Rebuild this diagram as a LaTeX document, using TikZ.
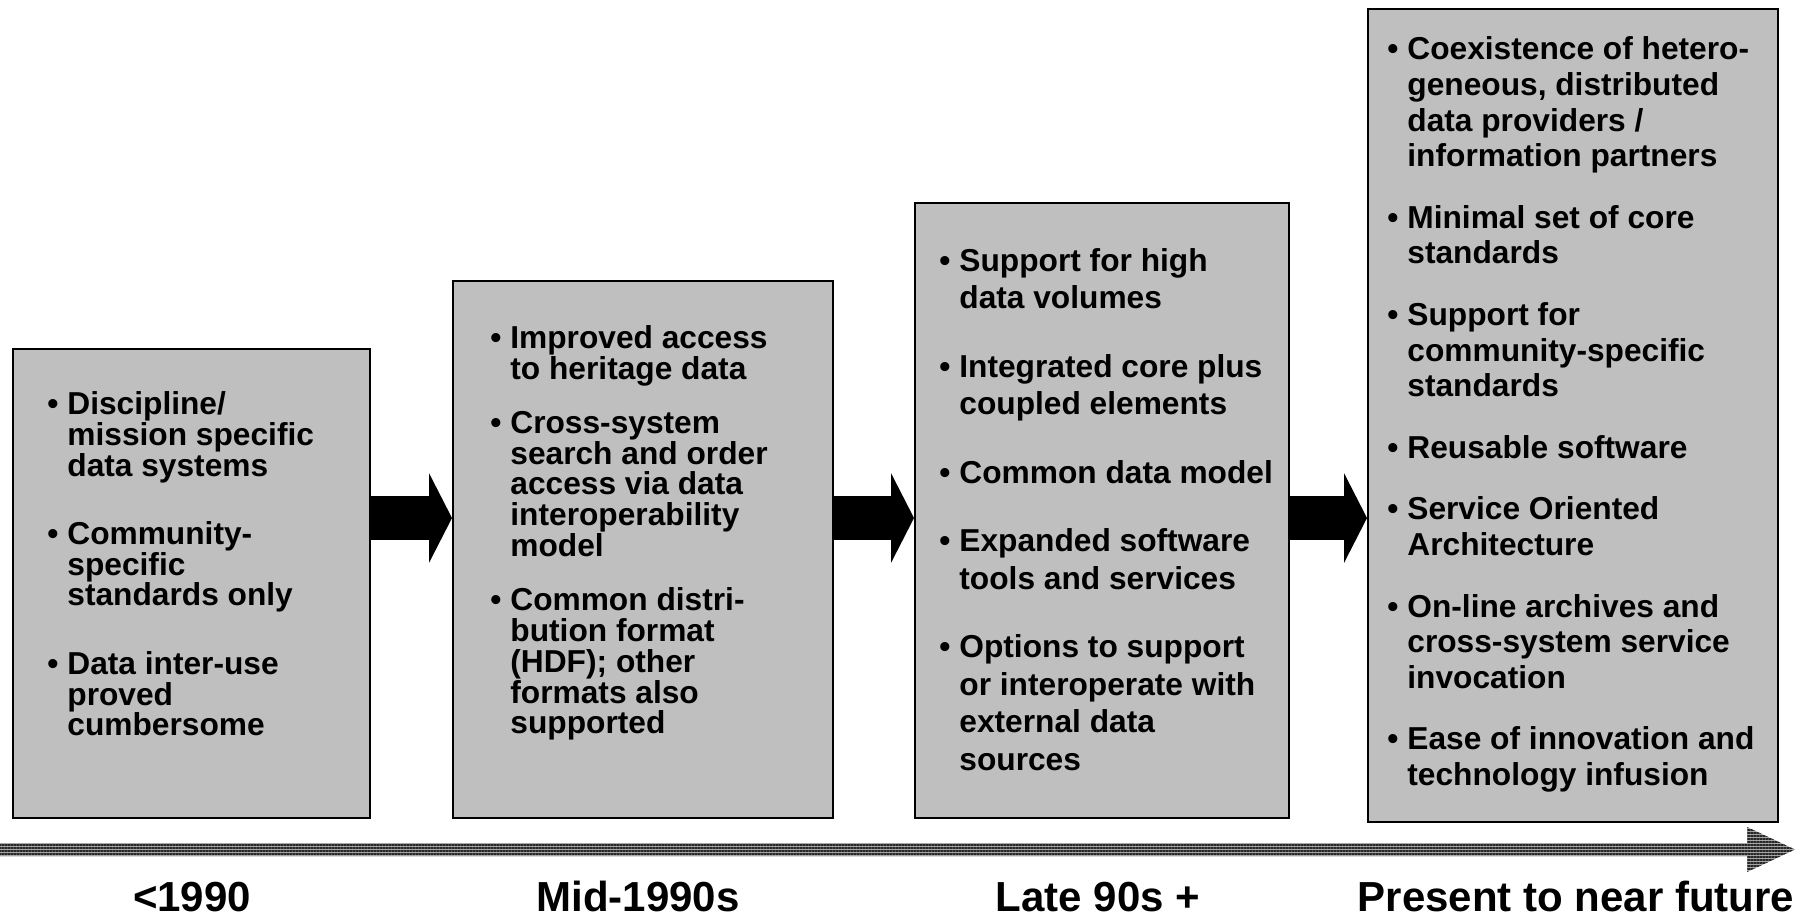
\documentclass[tikz,border=0pt]{standalone}
\usepackage{fontspec}
\setmainfont{Liberation Sans}
\usetikzlibrary{arrows.meta, positioning, patterns.meta}

\newlength{\stagegap}
\tikzset{
  stage/.style={draw=black, line width=0.9pt, fill=black!25, anchor=north west, inner sep=0pt},
  items/.style 2 args={anchor=north west, inner sep=0pt, align=left,
    font=\bfseries\fontsize{15.85}{#1}\selectfont,
    execute at begin node={\setlength{\stagegap}{#2}}},
  era/.style={anchor=base, inner sep=0pt, font=\bfseries\fontsize{21}{24}\selectfont},
  stagearrow/.style={line width=22pt, -{Triangle[length=11.5pt, width=44.5pt]}},
  timeline/.style={pattern={Lines[angle=0, distance=1.5pt, line width=0.75pt]}, pattern color=black!85}
}
\newcommand{\bu}{\makebox[10pt][l]{\textbullet}}
\newcommand{\indt}{\hspace*{10pt}}
\newcommand{\gap}{\\[\stagegap]}

\begin{document}
\begin{tikzpicture}[x=0.5pt, y=-0.5pt]
  \useasboundingbox (0,0) rectangle (1809,917);

  % the four stages
  \node[stage, minimum width=178.5pt, minimum height=234.5pt] (b1) at (12,348) {};
  \node[stage, minimum width=190pt, minimum height=268.5pt] (b2) at (452,280) {};
  \node[stage, minimum width=187pt, minimum height=307.5pt] (b3) at (914,202) {};
  \node[stage, minimum width=205pt, minimum height=406.5pt] (b4) at (1367,8) {};

  \node[items={15.3pt}{19pt}] (t1) at ([xshift=17.5pt, yshift=-21.8pt]b1.north west)
    {\bu Discipline/\\ \indt mission specific\\ \indt data systems\gap
     \bu Community-\\ \indt specific\\ \indt standards only\gap
     \bu Data inter-use\\ \indt proved\\ \indt cumbersome};
  \node[items={15.4pt}{11.7pt}] (t2) at ([xshift=19pt, yshift=-22.5pt]b2.north west)
    {\bu Improved access\\ \indt to heritage data\gap
     \bu Cross-system\\ \indt search and order\\ \indt access via data\\ \indt interoperability\\ \indt model\gap
     \bu Common distri-\\ \indt bution format\\ \indt (HDF); other\\ \indt formats also\\ \indt supported};
  \node[items={18.75pt}{15.5pt}] (t3) at ([xshift=12.5pt, yshift=-23pt]b3.north west)
    {\bu Support for high\\ \indt data volumes\gap
     \bu Integrated core plus\\ \indt coupled elements\gap
     \bu Common data model\gap
     \bu Expanded software\\ \indt tools and services\gap
     \bu Options to support\\ \indt or interoperate with\\ \indt external data\\ \indt sources};
  \node[items={17.8pt}{13pt}] (t4) at ([xshift=10pt, yshift=-14.3pt]b4.north west)
    {\bu Coexistence of hetero-\\ \indt geneous, distributed\\ \indt data providers /\\ \indt information partners\gap
     \bu Minimal set of core\\ \indt standards\gap
     \bu Support for\\ \indt community-specific\\ \indt standards\gap
     \bu Reusable software\gap
     \bu Service Oriented\\ \indt Architecture\gap
     \bu On-line archives and\\ \indt cross-system service\\ \indt invocation\gap
     \bu Ease of innovation and\\ \indt technology infusion};

  % block arrows between stages
  \draw[stagearrow] (b1.east |- 0,518) -- (b2.west |- 0,518);
  \draw[stagearrow] (b2.east |- 0,518) -- (b3.west |- 0,518);
  \draw[stagearrow] (b3.east |- 0,518) -- (b4.west |- 0,518);

  % time axis
  \fill[black!35] (0,843) -- (1747,843) -- (1747,827) -- (1795,849.5) -- (1747,872) -- (1747,856) -- (0,856) -- cycle;
  \fill[timeline] (0,843) -- (1747,843) -- (1747,827) -- (1795,849.5) -- (1747,872) -- (1747,856) -- (0,856) -- cycle;

  \node[era] (e1) at (192,911) {<1990};
  \node[era] (e2) at (638,911) {Mid-1990s};
  \node[era] (e3) at (1098,911) {Late 90s +};
  \node[era] (e4) at (1576,911) {Present to near future};
\end{tikzpicture}
\end{document}
